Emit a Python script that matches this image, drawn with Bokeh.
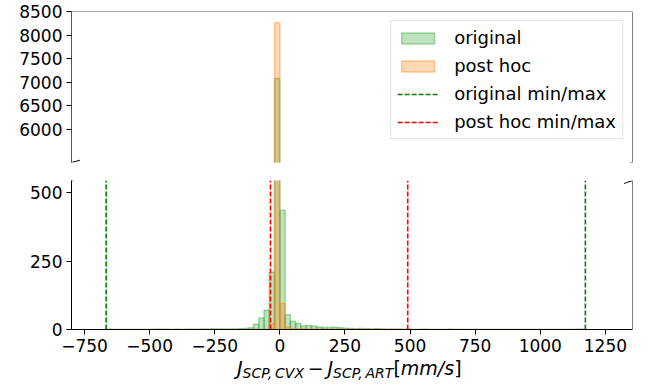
import numpy as np
from bokeh.plotting import figure
from bokeh.layouts import column
from bokeh.models import Range1d, FixedTicker, Span, Arrow, Legend, LegendItem, Div
from bokeh.embed import file_html
from bokeh.resources import INLINE

# ---------------- data ----------------
BIN_START = -667.0
BIN_WIDTH = 20.21

ORIGINAL_COUNTS = [
    1, 0, 0, 0, 0, 0, 0, 0, 0, 1,
    1, 1, 0, 1, 0, 1, 1, 1, 2, 2,
    3, 2, 2, 2, 2, 3, 4, 6, 19, 42,
    70, 209, 7080, 436, 54, 30, 22, 13, 15, 13,
    9, 7, 7, 8, 6, 5, 4, 3, 4, 3,
    2, 3, 2, 1, 1, 1, 0, 1, 0, 0,
    1, 0, 0, 0, 0, 1, 0, 0, 0, 0,
    0, 0, 0, 0, 0, 0, 0, 0, 0, 0,
    0, 0, 0, 0, 0, 0, 0, 0, 0, 1,
    1,
]
POSTHOC_COUNTS = [
    0, 0, 0, 0, 0, 0, 0, 0, 0, 0,
    0, 0, 0, 0, 0, 0, 0, 0, 0, 0,
    0, 0, 0, 0, 0, 0, 0, 0, 0, 0,
    0, 22, 8260, 95, 9, 4, 3, 2, 2, 2,
    1, 1, 1, 1, 1, 1, 1, 1, 1, 1,
    1, 1, 1, 1, 1, 1, 1, 1, 0, 0,
    0, 0, 0, 0, 0, 0, 0, 0, 0, 0,
    0, 0, 0, 0, 0, 0, 0, 0, 0, 0,
    0, 0, 0, 0, 0, 0, 0, 0, 0, 0,
    0,
]
ORIGINAL_MINMAX = [-667, 1173]
POSTHOC_MINMAX = [-36, 491]

X_TICKS = [-750, -500, -250, 0, 250, 500, 750, 1000, 1250]
TOP_Y_TICKS = [6000, 6500, 7000, 7500, 8000, 8500]
BOTTOM_Y_TICKS = [0, 250, 500]
X_LIMITS = (-800, 1354)
TOP_Y_LIMITS = (5300, 8500)
BOTTOM_Y_LIMITS = (0, 545)

# --------------- styling --------------
FONT = "DejaVu Sans"
GREEN_FILL = "#2ca02c"
ORANGE_FILL = "#ff7f0e"
HIST_ALPHA = 0.3
FIG_W = 650

n_bins = len(ORIGINAL_COUNTS)
left_edges = BIN_START + BIN_WIDTH * np.arange(n_bins)
right_edges = left_edges + BIN_WIDTH

x_range = Range1d(*X_LIMITS)

common = dict(output_backend="svg", toolbar_location=None, width=FIG_W,
              min_border_left=71, min_border_right=18, x_range=x_range)

top = figure(height=171, y_range=Range1d(*TOP_Y_LIMITS), x_axis_location=None,
             min_border_top=11, min_border_bottom=9, **common)
bottom = figure(height=184, y_range=Range1d(*BOTTOM_Y_LIMITS),
                min_border_top=9, min_border_bottom=26, **common)


def style_axis(ax):
    ax.axis_line_color = "black"
    ax.axis_line_width = 1
    ax.major_tick_line_color = "black"
    ax.major_tick_out = 5
    ax.major_tick_in = 0
    ax.minor_tick_line_color = None
    ax.major_label_text_font = FONT
    ax.major_label_text_font_size = "17px"
    ax.major_label_text_color = "black"
    ax.major_label_standoff = 4


for p in (top, bottom):
    p.outline_line_color = None
    p.xgrid.visible = False
    p.ygrid.visible = False
    p.background_fill_color = "white"
    p.border_fill_color = "white"
    for ax in p.yaxis:
        style_axis(ax)
    p.add_layout(Span(location=X_LIMITS[1], dimension="height",
                      line_color="black", line_width=1))

top.yaxis.ticker = FixedTicker(ticks=TOP_Y_TICKS)
top.yaxis.axis_line_color = "#555555"
bottom.yaxis.ticker = FixedTicker(ticks=BOTTOM_Y_TICKS)
for ax in bottom.xaxis:
    style_axis(ax)
bottom.xaxis.ticker = FixedTicker(ticks=X_TICKS)
bottom.xaxis.major_label_overrides = {
    float(t): (("\u2212" + str(abs(t))) if t < 0 else str(t)) for t in X_TICKS}

top.add_layout(Span(location=TOP_Y_LIMITS[1], dimension="width",
                    line_color="#555555", line_width=1))

renderers = {}
for p, key in ((top, "top"), (bottom, "bottom")):
    g = p.quad(left=left_edges, right=right_edges, bottom=0, top=ORIGINAL_COUNTS,
               fill_color=GREEN_FILL, fill_alpha=HIST_ALPHA,
               line_color=GREEN_FILL, line_alpha=HIST_ALPHA + 0.1, line_width=1.5)
    o = p.quad(left=left_edges, right=right_edges, bottom=0, top=POSTHOC_COUNTS,
               fill_color=ORANGE_FILL, fill_alpha=HIST_ALPHA,
               line_color=ORANGE_FILL, line_alpha=HIST_ALPHA + 0.1, line_width=1.5)
    gl = p.segment(x0=ORIGINAL_MINMAX, x1=ORIGINAL_MINMAX,
                   y0=[BOTTOM_Y_LIMITS[0]] * 2, y1=[BOTTOM_Y_LIMITS[1]] * 2,
                   line_color="green", line_width=1.6, line_dash="5 2")
    rl = p.segment(x0=POSTHOC_MINMAX, x1=POSTHOC_MINMAX,
                   y0=[BOTTOM_Y_LIMITS[0]] * 2, y1=[BOTTOM_Y_LIMITS[1]] * 2,
                   line_color="red", line_width=1.6, line_dash="5 2")
    renderers[key] = (g, o, gl, rl)

g, o, gl, rl = renderers["top"]
legend = Legend(items=[
    LegendItem(label="original", renderers=[g]),
    LegendItem(label="post hoc", renderers=[o]),
    LegendItem(label="original min/max", renderers=[gl]),
    LegendItem(label="post hoc min/max", renderers=[rl]),
], location="top_right")
legend.label_text_font = FONT
legend.label_text_font_size = "18px"
legend.label_text_color = "black"
legend.glyph_width = 41
legend.glyph_height = 14
legend.label_height = 20
legend.label_standoff = 16
legend.spacing = 7
legend.padding = 6
legend.margin = 9
legend.border_line_color = "#cccccc"
legend.border_line_width = 1
legend.background_fill_alpha = 0.85
top.add_layout(legend)

# broken-axis diagonal marks
xspan = X_LIMITS[1] - X_LIMITS[0]
dx = 0.015 * xspan
dyt = 0.015 * (TOP_Y_LIMITS[1] - TOP_Y_LIMITS[0])
dyb = 0.02 * (BOTTOM_Y_LIMITS[1] - BOTTOM_Y_LIMITS[0])
for xe in X_LIMITS:
    top.add_layout(Arrow(end=None, x_start=xe - dx, y_start=TOP_Y_LIMITS[0] - dyt,
                         x_end=xe + dx, y_end=TOP_Y_LIMITS[0] + dyt,
                         line_color="black", line_width=1))
    bottom.add_layout(Arrow(end=None, x_start=xe - dx, y_start=BOTTOM_Y_LIMITS[1] - dyb,
                            x_end=xe + dx, y_end=BOTTOM_Y_LIMITS[1] + dyb,
                            line_color="black", line_width=1))

# x-axis label: J_{SCP,CVX} - J_{SCP,ART} [mm/s]
sub = "font-size:14px;font-style:italic;position:relative;top:3px;"
label_html = (
    '<div style="position:absolute;left:237px;top:3px;white-space:nowrap;'
    'font-family:\'DejaVu Sans\';font-size:19px;line-height:20px;color:black;">'
    '<i>J</i><span style="' + sub + '">SCP,&thinsp;CVX</span>'
    '&thinsp;\u2212&thinsp;'
    '<i>J</i><span style="' + sub + '">SCP,&thinsp;ART</span>'
    '[<i>mm/s</i>]</div>'
)
xlabel = Div(text=label_html, width=FIG_W, height=28, margin=(0, 0, 0, 0),
             styles={"position": "relative"})

layout = column(top, bottom, xlabel, spacing=0)
open("out.html", "w").write(file_html(layout, INLINE))
